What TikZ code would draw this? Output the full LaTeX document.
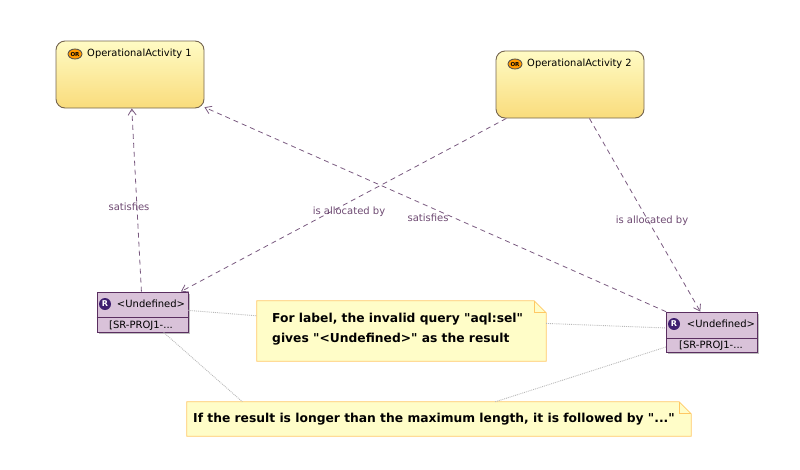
\documentclass[tikz,border=0pt]{standalone}
\usepackage{fontspec}
\setmainfont{DejaVu Sans}
\usetikzlibrary{arrows.meta,shapes.geometric,shadows,backgrounds}
\definecolor{linkcol}{HTML}{7A5A80}
\definecolor{labelcol}{HTML}{6E4A72}
\definecolor{acttop}{HTML}{FFFBC4}
\definecolor{actbottom}{HTML}{F9DC7C}
\definecolor{actline}{HTML}{75654F}
\definecolor{reqfill}{HTML}{D9C2D9}
\definecolor{reqline}{HTML}{5A2E60}
\definecolor{reqicon}{HTML}{3F1F70}
\definecolor{notefill}{HTML}{FFFDC8}
\definecolor{noteline}{HTML}{FFC864}
\tikzset{
  activity/.style={draw=actline,line width=.9pt,rounded corners=9pt,top color=acttop,bottom color=actbottom,minimum width=148pt,minimum height=67pt,inner sep=0pt},
  acttext/.style={font=\fontsize{9.9}{11}\selectfont,inner sep=0pt},
  actbadge/.style={ellipse,draw=black!70,line width=.8pt,fill=orange!80!yellow,text=black,font=\fontsize{5.5}{5.5}\bfseries\selectfont,inner sep=0pt,minimum width=14pt,minimum height=10pt},
  reqbox/.style={draw=reqline,line width=.9pt,fill=reqfill,minimum width=91pt,minimum height=40pt,inner sep=0pt,drop shadow={shadow xshift=1.5pt,shadow yshift=-1.5pt,fill=black!50,opacity=.5}},
  reqtext/.style={font=\fontsize{10}{11}\selectfont,inner sep=0pt},
  reqbadge/.style={circle,fill=reqicon,text=white,font=\fontsize{8}{8}\bfseries\selectfont,inner sep=0pt,minimum size=12pt},
  notebox/.style={inner sep=0pt},
  notetext/.style={font=\fontsize{12.3}{20.5}\bfseries\selectfont,align=left,inner sep=0pt},
  link/.style={draw=linkcol,line width=.8pt,dash pattern=on 5pt off 4pt,-{Straight Barb[length=6pt,width=8pt]}},
  linklabel/.style={text=labelcol,font=\fontsize{10}{11}\selectfont,inner sep=0pt},
  noteattach/.style={draw=black!28,line width=.9pt,densely dotted}
}
% note outline with a folded corner, behind the text
\newcommand{\notefold}[2]{
  \begin{pgfonlayer}{background}
    \draw[noteline,fill=notefill,line width=.8pt] (#1.south west) -- (#1.north west) -- ([xshift=-#2]#1.north east) -- ([yshift=-#2]#1.north east) -- (#1.south east) -- cycle;
    \draw[noteline,line width=.8pt] ([xshift=-#2]#1.north east) -- ([xshift=-#2,yshift=-#2]#1.north east) -- ([yshift=-#2]#1.north east);
  \end{pgfonlayer}
}
\begin{document}
\begin{tikzpicture}[x=1pt,y=-1pt]
\useasboundingbox (0,0) rectangle (800,469);
% activities
\node[activity] (oa1) at (130,74.5) {};
\node[activity] (oa2) at (570,84.5) {};
\node[actbadge] (oa1badge) at (75,54) {OR};
\node[acttext] (oa1text) at (139.5,54) {OperationalActivity 1};
\node[actbadge] (oa2badge) at (515,64) {OR};
\node[acttext] (oa2text) at (579.5,64) {OperationalActivity 2};
% requirements
\node[reqbox] (r1) at (142.5,312) {};
\node[reqbox] (r2) at (712,332) {};
\draw[reqline,line width=.9pt] (r1.west |- 0,317) -- (r1.east |- 0,317);
\draw[reqline,line width=.9pt] (r2.west |- 0,338) -- (r2.east |- 0,338);
\node[reqbadge] (r1badge) at (105,304) {R};
\node[reqtext] (r1title) at (151,304) {<Undefined>};
\node[reqtext] (r1id) at (141,326) {[SR-PROJ1-...};
\node[reqbadge] (r2badge) at (674,324) {R};
\node[reqtext] (r2title) at (721,324) {<Undefined>};
\node[reqtext] (r2id) at (711,346) {[SR-PROJ1-...};
% notes
\node[notebox,minimum width=289pt,minimum height=60pt] (note1) at (401.5,331) {};
\notefold{note1}{12pt}
\node[notetext,anchor=west] (note1text) at (272,329) {For label, the invalid query \textquotedbl aql:sel\textquotedbl\\gives \textquotedbl <Undefined>\textquotedbl{} as the result};
\node[notebox,minimum width=504pt,minimum height=34pt] (note2) at (439,419) {};
\notefold{note2}{12pt}
\node[notetext,anchor=west] (note2text) at (193,419) {If the result is longer than the maximum length, it is followed by \textquotedbl ...\textquotedbl};
% links
\draw[link] (r1) -- (oa1);
\draw[link] (r2) -- (oa1);
\draw[link] (oa2) -- (r1);
\draw[link] (oa2) -- (r2);
\node[linklabel] (sat1) at (129,207) {satisfies};
\node[linklabel] (sat2) at (428,218) {satisfies};
\node[linklabel] (alloc1) at (349,212) {is allocated by};
\node[linklabel] (alloc2) at (652,221) {is allocated by};
% note attachments
\draw[noteattach] (r1.2) -- (note1.174);
\draw[noteattach] (note1.3) -- (r2.175);
\draw[noteattach] (r1.316) -- (note2.175);
\draw[noteattach] (r2.198) -- (note2.17);
\end{tikzpicture}
\end{document}
